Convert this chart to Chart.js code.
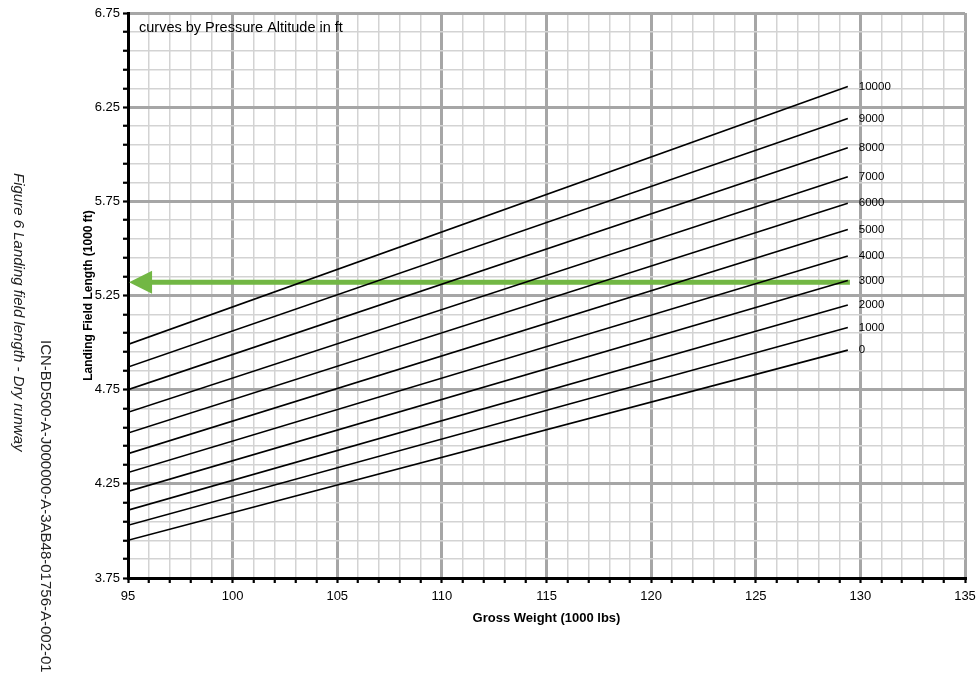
<!DOCTYPE html>
<html><head><meta charset="utf-8">
<script src="https://cdn.jsdelivr.net/npm/chart.js@4.4.1/dist/chart.umd.min.js"></script>
<style>html,body{margin:0;padding:0;background:#fff;}#wrap{width:977px;height:688px;}</style>
</head><body><div id="wrap"><canvas id="c" width="977" height="688"></canvas></div>
<script>
// ---- data ----
const altitudes = ['0','1000','2000','3000','4000','5000','6000','7000','8000','9000','10000'];
const weightStart = 95;
const weightEnd = 129.4;
const lengthAtStart = [3.95, 4.03, 4.11, 4.21, 4.31, 4.41, 4.52, 4.63, 4.75, 4.87, 4.99];
const lengthAtEnd   = [4.96, 5.08, 5.20, 5.33, 5.46, 5.60, 5.74, 5.88, 6.035, 6.19, 6.36];
const arrowLength = 5.32;
const arrowFromWeight = 129.5;
const arrowToWeight = 95.05;
const xTickLabels = ['95','100','105','110','115','120','125','130','135'];
const yTickLabels = ['3.75','4.25','4.75','5.25','5.75','6.25','6.75'];
const xMinorStep = 1;
const yMinorStep = 0.1;
const noteText = 'curves by Pressure Altitude in ft';
const captionText = 'Figure 6 Landing field length - Dry runway';
const icnText = 'ICN-BD500-A-J000000-A-3AB48-01756-A-002-01';

// ---- helpers ----
const xMin = Number(xTickLabels[0]), xMax = Number(xTickLabels[xTickLabels.length-1]);
const yMin = Number(yTickLabels[0]), yMax = Number(yTickLabels[yTickLabels.length-1]);
const xTicks = []; for (let v = xMin; v <= xMax + 1e-9; v += xMinorStep) xTicks.push(+v.toFixed(2));
const yTicks = []; for (let i = 0; yMin + i*yMinorStep <= yMax + 1e-9; i++) yTicks.push(+(yMin + i*yMinorStep).toFixed(2));
const isMajorX = v => xTickLabels.includes(String(Math.round(v))) && Math.abs(v-Math.round(v))<1e-6;
const isMajorY = v => yTickLabels.includes(Number(v).toFixed(2));

const FONT = '"Liberation Sans", Arial, Helvetica, sans-serif';

const curveSets = altitudes.map((a, i) => ({
  label: a,
  data: [{x: weightStart, y: lengthAtStart[i]}, {x: weightEnd, y: lengthAtEnd[i]}],
  borderColor: '#000', borderWidth: 1.6, pointRadius: 0, fill: false, tension: 0, isCurve: true
}));
const arrowSet = {
  label: 'arrow',
  data: [{x: arrowFromWeight, y: arrowLength}, {x: arrowToWeight + 1.0, y: arrowLength}],
  borderColor: '#72b744', borderWidth: 5, pointRadius: 0, fill: false, borderCapStyle: 'butt'
};

const extras = {
  id: 'extras',
  afterDatasetsDraw(chart) {
    const ctx = chart.ctx, xs = chart.scales.x, ys = chart.scales.y;
    ctx.save();
    ctx.fillStyle = '#000';
    ctx.font = '11.5px ' + FONT;
    ctx.textAlign = 'left'; ctx.textBaseline = 'middle';
    chart.data.datasets.forEach((ds, di) => {
      if (!ds.isCurve) return;
      const meta = chart.getDatasetMeta(di);
      const pt = meta.data[meta.data.length-1];
      ctx.fillText(ds.label, pt.x + 11, pt.y);
    });
    const tipX = xs.getPixelForValue(arrowToWeight), ay = ys.getPixelForValue(arrowLength);
    ctx.fillStyle = '#72b744';
    ctx.beginPath();
    ctx.moveTo(tipX, ay);
    ctx.lineTo(tipX + 23, ay - 11.5);
    ctx.lineTo(tipX + 23, ay + 11.5);
    ctx.closePath(); ctx.fill();
    ctx.fillStyle = '#000';
    ctx.font = '14.5px ' + FONT;
    ctx.textAlign = 'left'; ctx.textBaseline = 'middle';
    ctx.fillText(noteText, chart.chartArea.left + 11, chart.chartArea.top + 15);
    ctx.restore();
  },
  afterDraw(chart) {
    const ctx = chart.ctx;
    ctx.save();
    ctx.fillStyle = '#222';
    ctx.font = 'italic 15px ' + FONT;
    ctx.textAlign = 'left'; ctx.textBaseline = 'middle';
    ctx.translate(18, 173); ctx.rotate(Math.PI/2);
    ctx.fillText(captionText, 0, 0);
    ctx.restore();
    ctx.save();
    ctx.fillStyle = '#222';
    ctx.font = '15px ' + FONT;
    ctx.textAlign = 'left'; ctx.textBaseline = 'middle';
    ctx.translate(45, 340); ctx.rotate(Math.PI/2);
    ctx.fillText(icnText, 0, 0);
    ctx.restore();
  }
};

new Chart(document.getElementById('c'), {
  type: 'line',
  data: { datasets: [...curveSets, arrowSet] },
  options: {
    responsive: false, devicePixelRatio: 1, animation: false,
    layout: { padding: { left: 0, top: 13, right: 12, bottom: 0 } },
    plugins: { legend: { display: false }, tooltip: { enabled: false } },
    scales: {
      x: {
        type: 'linear', min: xMin, max: xMax,
        afterBuildTicks: s => { s.ticks = xTicks.map(v => ({value: v})); },
        afterFit: s => { s.height = 110; s.paddingRight = 0; s.paddingLeft = 0; },
        ticks: { autoSkip: false, maxRotation: 0, padding: 6, color: '#000',
          font: { family: FONT, size: 13 },
          callback: v => isMajorX(v) ? String(Math.round(v)) : '' },
        grid: {
          color: c => isMajorX(c.tick.value) ? '#a6a6a6' : '#d3d3d3',
          lineWidth: c => isMajorX(c.tick.value) ? 3 : 1.5,
          tickColor: '#000', tickWidth: 2.2, tickLength: 5
        },
        border: { color: '#000', width: 3 },
        title: { display: true, text: 'Gross Weight (1000 lbs)', color: '#000',
          font: { family: FONT, size: 13, weight: 'bold' }, padding: { top: 0, bottom: 62 } }
      },
      y: {
        type: 'linear', min: yMin, max: yMax,
        afterBuildTicks: s => { s.ticks = yTicks.map(v => ({value: v})); },
        afterFit: s => { s.width = 128; },
        ticks: { autoSkip: false, padding: 3, color: '#000',
          font: { family: FONT, size: 13 },
          callback: v => isMajorY(v) ? Number(v).toFixed(2) : '' },
        grid: {
          color: c => isMajorY(c.tick.value) ? '#a6a6a6' : '#d3d3d3',
          lineWidth: c => isMajorY(c.tick.value) ? 3 : 1.5,
          tickColor: '#000', tickWidth: 2.2, tickLength: 5
        },
        border: { color: '#000', width: 3 },
        title: { display: true, text: 'Landing Field Length (1000 ft)', color: '#000',
          font: { family: FONT, size: 12, weight: 'bold' }, padding: { top: 81, bottom: 0 } }
      }
    }
  },
  plugins: [extras]
});
</script>
</body></html>
